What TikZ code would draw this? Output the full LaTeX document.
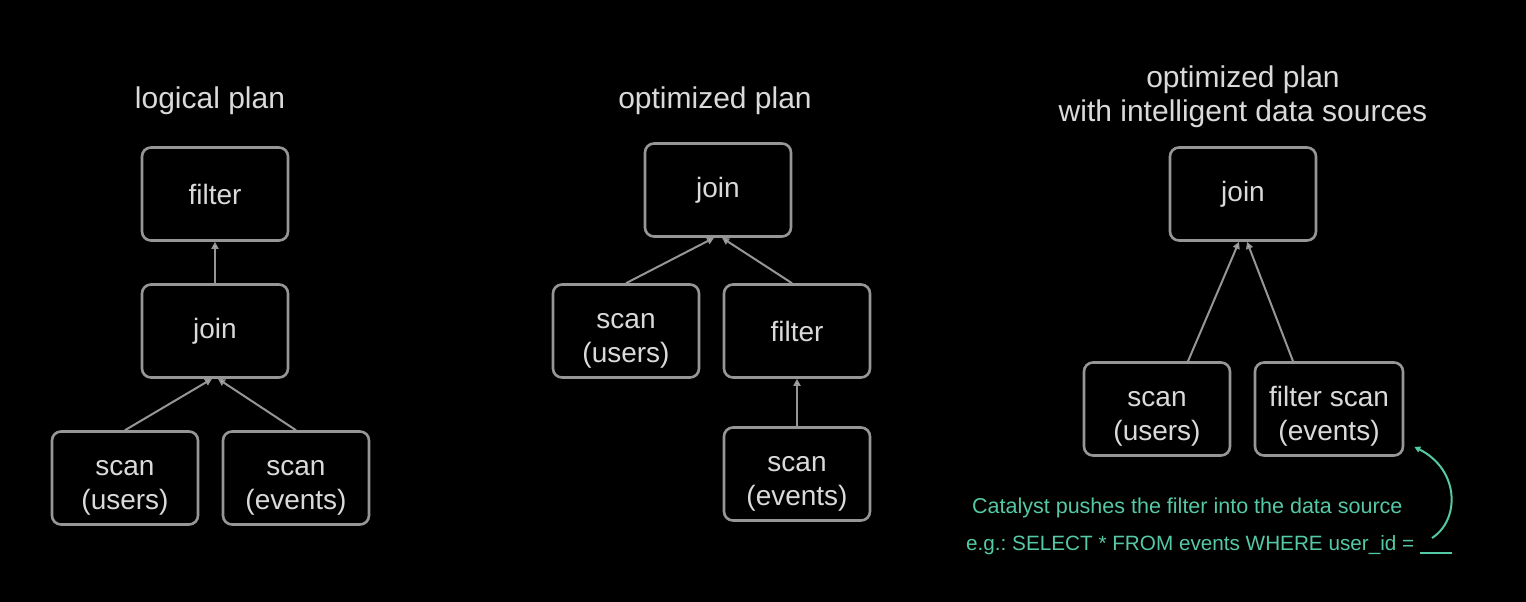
\documentclass[tikz,border=0pt]{standalone}
\usepackage{fontspec}
\setmainfont{Liberation Sans}
\usetikzlibrary{arrows.meta}
\definecolor{boxgray}{RGB}{150,150,150}
\definecolor{txtgray}{RGB}{218,218,218}
\definecolor{noteteal}{RGB}{85,200,165}
\newcommand{\twolines}[2]{\raisebox{-8pt}[\height][\depth]{\begin{tabular}{@{}c@{}}#1\\#2\end{tabular}}}
\begin{document}
\frenchspacing
\begin{tikzpicture}[x=1pt,y=-1pt,
  opbox/.style={draw=boxgray, line width=2.6pt, rounded corners=9pt, minimum width=146pt, minimum height=93pt, align=center, text=txtgray, font=\fontsize{28}{34}\selectfont, inner sep=0pt},
  ttl/.style={text=txtgray, font=\fontsize{30}{34}\selectfont, align=center},
  edge/.style={draw=boxgray, line width=2pt, -{Triangle[width=7pt,length=7pt,fill=txtgray]}},
  note/.style={text=noteteal, anchor=west, inner sep=0pt}]
\fill[black] (0,0) rectangle (1526,602);
\useasboundingbox (0,0) rectangle (1526,602);
% panel 1
\node[ttl] (t1) at (210,101) {logical plan};
\node[opbox] (f1) at (215,194) {filter};
\node[opbox] (j1) at (215,331) {join};
\node[opbox] (su1) at (125,478) {\twolines{scan}{(users)}};
\node[opbox] (se1) at (296,478) {\twolines{scan}{(events)}};
\draw[edge] (j1.north) -- (f1.south);
\draw[edge] (su1.north) -- ([xshift=-3pt]j1.south);
\draw[edge] (se1.north) -- ([xshift=3pt]j1.south);

% panel 2
\node[ttl] (t2) at (715,101) {optimized plan};
\node[opbox] (j2) at (718,190) {join};
\node[opbox] (su2) at (626,331) {\twolines{scan}{(users)}};
\node[opbox] (f2) at (797,331) {filter};
\node[opbox] (se2) at (797,474) {\twolines{scan}{(events)}};
\draw[edge] (su2.north) -- ([xshift=-4pt]j2.south);
\draw[edge] ([xshift=-5pt]f2.north) -- ([xshift=4pt]j2.south);
\draw[edge] (se2.north) -- (f2.south);

% panel 3
\node[ttl] (t3) at (1243,97) {optimized plan\\with intelligent data sources};
\node[opbox] (j3) at (1243,194) {join};
\node[opbox] (su3) at (1157,409) {\twolines{scan}{(users)}};
\node[opbox, minimum width=148pt] (fs3) at (1329,409) {\twolines{filter scan}{(events)}};
\draw[edge] ([xshift=31pt]su3.north) -- ([xshift=-4pt]j3.south);
\draw[edge] ([xshift=-36pt]fs3.north) -- ([xshift=4pt]j3.south);

% annotation
\node[note, font=\fontsize{21.5}{24}\selectfont] (n1) at (972,508) {Catalyst pushes the filter into the data source};
\node[note, font=\fontsize{20.7}{24}\selectfont] (n2) at (966,545) {e.g.: SELECT * FROM events WHERE user\_id = \rule[-4pt]{32pt}{2pt}};
\coordinate (cs) at (1432,538);
\draw[noteteal, line width=2pt, -{Triangle[width=6pt,length=6pt]}] (cs) .. controls (1460,520) and (1460,470) .. ([shift={(10,-10)}]fs3.south east);
\end{tikzpicture}
\end{document}
